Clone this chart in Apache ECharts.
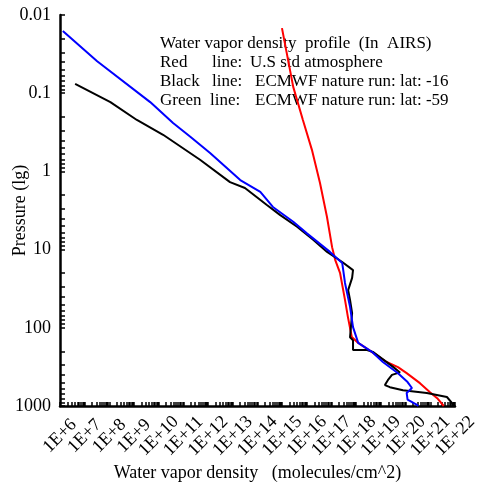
<!DOCTYPE html>
<html>
<head>
<meta charset="utf-8">
<title>Water vapor density profile</title>
<script src="https://cdn.jsdelivr.net/npm/echarts@6/dist/echarts.min.js"></script>
<style>
  html, body { margin: 0; padding: 0; background: #fff; }
  #chart { width: 477px; height: 486px; }
</style>
</head>
<body>
<div id="chart"></div>
<script>
// values (pressure in hPa, density in molecules/cm^2)
var redPressure = [0.0147, 0.083, 0.22, 0.53, 1.41, 3.8, 9.3, 13.5, 19.8, 44, 73, 131, 156, 208, 274, 318, 380, 510, 665, 795, 1000];
var redDensity = [9.8e14, 2.8e15, 6.9e15, 1.6e16, 3.4e16, 6.5e16, 1.05e17, 1.4e17, 2.2e17, 3.5e17, 4.6e17, 6.6e17, 1.2e18, 4.7e18, 1.7e19, 4.9e19, 1.1e20, 3.8e20, 9.7e20, 1.9e21, 3.5e21];

var blackPressure = [0.076, 0.13, 0.22, 0.34, 0.71, 1.37, 1.63, 2.69, 3.6, 5.1, 7.5, 10.7, 14.4, 18.3, 23, 33, 44, 65, 132, 145, 192, 192, 203, 316, 372, 400, 468, 540, 575, 630, 680, 767, 915, 1000];
var blackDensity = [4.1e6, 1.1e8, 1.3e9, 1.5e10, 4.7e11, 7.7e12, 3.1e13, 2.4e14, 8.1e14, 4.0e15, 1.8e16, 6.6e16, 2.7e17, 7.4e17, 6.8e17, 4.7e17, 5.6e17, 6.8e17, 5.6e17, 7.4e17, 7.4e17, 2.7e18, 4.7e18, 3.1e19, 5.9e19, 2.8e19, 1.9e19, 1.45e19, 2.3e19, 7.8e19, 7.2e20, 4.7e21, 7.5e21, 8.3e21];

var bluePressure = [0.016, 0.039, 0.13, 0.24, 0.36, 0.58, 1.29, 1.83, 2.85, 4.4, 6.2, 10.7, 14.8, 26.7, 54, 98, 156, 203, 274, 381, 494, 589, 680, 830, 970, 1000];
var blueDensity = [1.3e6, 3.2e7, 4.5e9, 3.8e10, 1.9e11, 1.2e12, 2.0e13, 1.3e14, 4.2e14, 2.8e15, 1.0e16, 8.6e16, 2.7e17, 3.5e17, 5.6e17, 7.4e17, 1.2e18, 4.3e18, 1.2e19, 4.9e19, 1.2e20, 1.8e20, 1.1e20, 1.2e20, 2.9e20, 3.3e20];

// axis ticks
var xDecades = [6, 7, 8, 9, 10, 11, 12, 13, 14, 15, 16, 17, 18, 19, 20, 21, 22];
var yDecades = [-2, -1, 0, 1, 2, 3];
var yLabels = ['0.01', '0.1', '1', '10', '100', '1000'];

function pairs(xs, ys) {
    var out = [];
    for (var i = 0; i < xs.length; i++) out.push([xs[i], ys[i]]);
    return out;
}
// 1..9 times each decade, for the log tick marks
function logTicks(decades) {
    var out = [];
    decades.forEach(function (d, i) {
        var limit = (i === decades.length - 1) ? 1 : 9;
        for (var k = 1; k <= limit; k++) out.push(k * Math.pow(10, d));
    });
    return out;
}
// the x labels are split over two axes so echarts doesn't drop any as overlapping
var xEven = xDecades.filter(function (d) { return d % 2 === 0; }).map(function (d) { return Math.pow(10, d); });
var xOdd = xDecades.filter(function (d) { return d % 2 === 1; }).map(function (d) { return Math.pow(10, d); });
var yMajor = yDecades.map(function (d) { return Math.pow(10, d); });

var serif = "'Liberation Serif', 'Times New Roman', serif";
var noteFont = '17px ' + serif;

function xLabel(values) {
    return {
        customValues: values,
        showMinLabel: true,
        showMaxLabel: true,
        hideOverlap: false,
        rotate: 45,
        align: 'center',
        verticalAlign: 'middle',
        margin: 30,
        fontFamily: serif,
        fontSize: 18,
        color: '#000',
        formatter: function (v) { return '1E+' + Math.round(Math.log10(v)); }
    };
}

var chart = echarts.init(document.getElementById('chart'));

chart.setOption({
    animation: false,
    backgroundColor: '#fff',
    grid: { left: 60, right: 22, top: 15, bottom: 80, outerBoundsMode: 'none', containLabel: false },
    xAxis: [{
        type: 'log',
        logBase: 10,
        min: 1e6,
        max: 1e22,
        position: 'bottom',
        name: 'Water vapor density   (molecules/cm^2)',
        nameLocation: 'middle',
        nameGap: 58,
        nameMoveOverlap: false,
        nameTextStyle: { fontFamily: serif, fontSize: 18, color: '#000' },
        axisLine: { lineStyle: { color: '#000', width: 2.5 } },
        axisTick: { inside: true, length: 4, customValues: logTicks(xDecades), lineStyle: { color: '#000', width: 1.5 } },
        minorTick: { show: false },
        splitLine: { show: false },
        axisLabel: xLabel(xEven)
    }, {
        type: 'log',
        logBase: 10,
        min: 1e6,
        max: 1e22,
        position: 'bottom',
        offset: 0,
        axisLine: { show: false },
        axisTick: { show: false },
        minorTick: { show: false },
        splitLine: { show: false },
        axisLabel: xLabel(xOdd)
    }],
    yAxis: {
        type: 'log',
        logBase: 10,
        inverse: true,
        min: 0.01,
        max: 1000,
        name: 'Pressure (lg)',
        nameLocation: 'middle',
        nameGap: 31,
        nameRotate: 90,
        nameMoveOverlap: false,
        nameTextStyle: { fontFamily: serif, fontSize: 18, color: '#000' },
        axisLine: { lineStyle: { color: '#000', width: 2.5 } },
        axisTick: { inside: true, length: 5, customValues: logTicks(yDecades), lineStyle: { color: '#000', width: 1.5 } },
        minorTick: { show: false },
        splitLine: { show: false },
        axisLabel: {
            customValues: yMajor,
            showMinLabel: true,
            showMaxLabel: true,
            hideOverlap: false,
            margin: 9,
            fontFamily: serif,
            fontSize: 18,
            color: '#000',
            formatter: function (v) {
                var i = yMajor.findIndex(function (m) { return Math.abs(m - v) / m < 1e-6; });
                return i >= 0 ? yLabels[i] : '';
            }
        }
    },
    graphic: [
        { type: 'text', left: 160, top: 35, style: { text: 'Water vapor density  profile  (In  AIRS)', font: noteFont, fill: '#000' } },
        { type: 'text', left: 160, top: 54, style: { text: 'Red', font: noteFont, fill: '#000' } },
        { type: 'text', left: 212, top: 54, style: { text: 'line:', font: noteFont, fill: '#000' } },
        { type: 'text', left: 250, top: 54, style: { text: 'U.S std atmosphere', font: noteFont, fill: '#000' } },
        { type: 'text', left: 160, top: 73, style: { text: 'Black', font: noteFont, fill: '#000' } },
        { type: 'text', left: 212, top: 73, style: { text: 'line:', font: noteFont, fill: '#000' } },
        { type: 'text', left: 255, top: 73, style: { text: 'ECMWF nature run: lat: -16', font: noteFont, fill: '#000' } },
        { type: 'text', left: 160, top: 92, style: { text: 'Green', font: noteFont, fill: '#000' } },
        { type: 'text', left: 210, top: 92, style: { text: 'line:', font: noteFont, fill: '#000' } },
        { type: 'text', left: 255, top: 92, style: { text: 'ECMWF nature run: lat: -59', font: noteFont, fill: '#000' } }
    ],
    series: [
        {
            name: 'Red', type: 'line', data: pairs(redDensity, redPressure),
            showSymbol: false, symbol: 'none', clip: true,
            lineStyle: { color: '#ff0000', width: 2 }
        },
        {
            name: 'Black', type: 'line', data: pairs(blackDensity, blackPressure),
            showSymbol: false, symbol: 'none', clip: true,
            lineStyle: { color: '#000000', width: 2 }
        },
        {
            name: 'Blue', type: 'line', data: pairs(blueDensity, bluePressure),
            showSymbol: false, symbol: 'none', clip: true,
            lineStyle: { color: '#0000ff', width: 2 }
        }
    ]
});
</script>
</body>
</html>
